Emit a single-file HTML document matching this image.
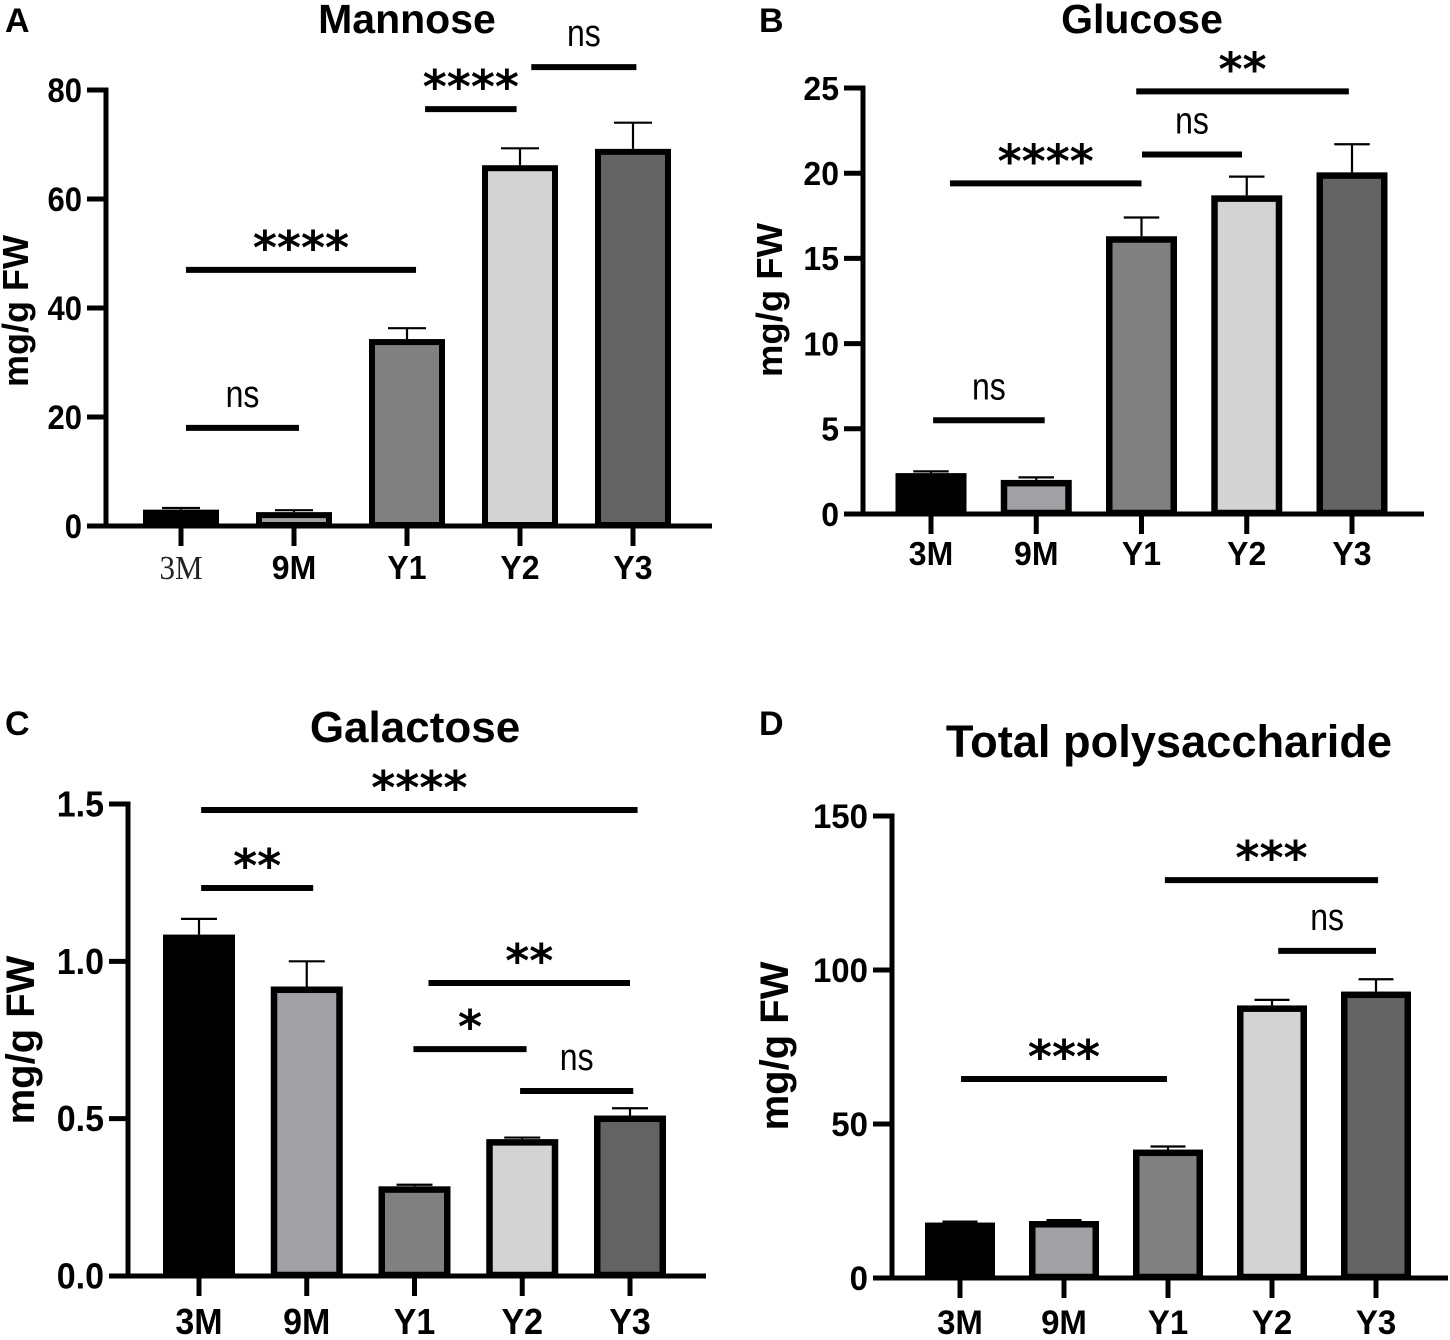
<!DOCTYPE html>
<html lang="en">
<head>
<meta charset="utf-8">
<title>Monosaccharide and polysaccharide content</title>
<style>
  html, body { margin: 0; padding: 0; background: #fff; }
  svg { display: block; font-family: "Liberation Sans", sans-serif; }
  .t { font-weight: 700; fill: #000; }
</style>
</head>
<body>
<svg id="figure" xmlns="http://www.w3.org/2000/svg" width="1450" height="1340" viewBox="0 0 1450 1340">
  <rect x="0" y="0" width="1450" height="1340" fill="#fff"/>
  <text class="t" x="5" y="32" font-size="34">A</text>
  <text class="t" x="759" y="32" font-size="34">B</text>
  <text class="t" x="5" y="735" font-size="34">C</text>
  <text class="t" x="759" y="735" font-size="34">D</text>
  <text class="t" x="407" y="33" font-size="41" text-anchor="middle">Mannose</text>
  <text class="t" x="1142" y="33" font-size="41" text-anchor="middle">Glucose</text>
  <text class="t" x="415" y="742" font-size="44" text-anchor="middle">Galactose</text>
  <text class="t" x="1169" y="757" font-size="45.2" text-anchor="middle">Total polysaccharide</text>
  <text class="t" transform="translate(28 311) rotate(-90)" font-size="36" text-anchor="middle">mg/g FW</text>
  <text class="t" transform="translate(782 300) rotate(-90)" font-size="36.5" text-anchor="middle">mg/g FW</text>
  <text class="t" transform="translate(34 1040) rotate(-90)" font-size="40" text-anchor="middle">mg/g FW</text>
  <text class="t" transform="translate(788 1046) rotate(-90)" font-size="40" text-anchor="middle">mg/g FW</text>
</svg>
<script>
const categories = ['3M', '9M', 'Y1', 'Y2', 'Y3'];

const mannoseValues = [3, 2.55, 34.3, 66.2, 69.2];
const mannoseErrorTops = [3.3, 2.9, 36.3, 69.3, 74];
const mannoseTicks = [0, 20, 40, 60, 80];
const mannoseTickLabels = ['0', '20', '40', '60', '80'];
const mannoseSigLabels = ['ns', '****', '****', 'ns'];
const mannoseSigFrom = [0.044, 0.044, 2.16, 3.1];
const mannoseSigTo = [1.044, 2.08, 2.97, 4.03];
const mannoseSigLevel = [18, 47, 76.5, 84.2];

const glucoseValues = [2.4, 2.0, 16.3, 18.7, 20.05];
const glucoseErrorTops = [2.5, 2.15, 17.4, 19.8, 21.7];
const glucoseTicks = [0, 5, 10, 15, 20, 25];
const glucoseTickLabels = ['0', '5', '10', '15', '20', '25'];
const glucoseSigLabels = ['ns', '****', 'ns', '**'];
const glucoseSigFrom = [0.02, 0.18, 2.005, 1.95];
const glucoseSigTo = [1.08, 2, 2.955, 3.97];
const glucoseSigLevel = [5.5, 19.4, 21.1, 24.8];

const galactoseValues = [1.085, 0.92, 0.285, 0.435, 0.51];
const galactoseErrorTops = [1.135, 1.0, 0.29, 0.44, 0.533];
const galactoseTicks = [0, 0.5, 1, 1.5];
const galactoseTickLabels = ['0.0', '0.5', '1.0', '1.5'];
const galactoseSigLabels = ['****', '**', '**', '*', 'ns'];
const galactoseSigFrom = [0.02, 0.02, 2.13, 1.99, 2.98];
const galactoseSigTo = [4.07, 1.06, 4.0, 3.04, 4.03];
const galactoseSigLevel = [1.481, 1.233, 0.931, 0.721, 0.588];

const totalValues = [18, 18.5, 41.7, 88.5, 93];
const totalErrorTops = [18.3, 18.8, 42.7, 90.3, 97];
const totalTicks = [0, 50, 100, 150];
const totalTickLabels = ['0', '50', '100', '150'];
const totalSigLabels = ['***', '***', 'ns'];
const totalSigFrom = [0.01, 1.97, 3.06];
const totalSigTo = [1.99, 4.02, 4.0];
const totalSigLevel = [64.6, 129.2, 106.2];

const barColors = ['#000000', '#a0a0a5', '#808080', '#d3d3d3', '#636363'];

const svg = document.getElementById('figure');

function make(tag, props, text) {
  const el = document.createElementNS('http://www.w3.org/2000/svg', tag);
  for (const k in props) el.setAttribute(k, props[k]);
  if (text !== undefined) el.textContent = text;
  return el;
}

function drawPanel(p) {
  const g = make('g', {});
  
  
  svg.appendChild(g);

  const yScale = v => p.y0 - (v / p.yMax) * (p.y0 - p.yTop);
  const xScale = i => p.x0 + i * p.step;
  const bw = p.barWidth, sw = p.barStroke;

  // error bars
  p.values.forEach((v, i) => {
    const x = xScale(i), yt = yScale(p.errorTops[i]);
    const stem = make('line', { x1: x, x2: x, y1: yScale(v), y2: yt, stroke: '#000', 'stroke-width': 2.2 });
    
    
    g.appendChild(stem);
    const cap = make('line', { x1: x - bw * 0.25, x2: x + bw * 0.25, y1: yt, y2: yt, stroke: '#000', 'stroke-width': 2.2 });
    
    
    g.appendChild(cap);
  });

  // bars
  p.values.forEach((v, i) => {
    const x = xScale(i), yt = yScale(v);
    const bar = make('rect', {
      x: x - bw / 2 + sw / 2,
      y: yt + sw / 2,
      width: bw - sw,
      height: Math.max(0, p.y0 - 1 - yt - sw / 2),
      fill: barColors[i], stroke: '#000', 'stroke-width': sw
    });
    
    
    g.appendChild(bar);
  });

  // y axis
  const yAxis = make('line', { x1: p.axisX, x2: p.axisX, y1: p.yTop - 2.5, y2: p.y0, stroke: '#000', 'stroke-width': 5 });
  
  
  g.appendChild(yAxis);
  p.ticks.forEach((t, i) => {
    const y = yScale(t);
    const tick = make('line', { x1: p.axisX - 19, x2: p.axisX, y1: y, y2: y, stroke: '#000', 'stroke-width': 5 });
    
    
    g.appendChild(tick);
    const lab = make('text', {
      transform: 'translate(' + (p.axisX - 24) + ' ' + (y + p.tickFont * 0.35 * p.tickStretch) + ') scale(1 ' + p.tickStretch + ')',
      'text-anchor': 'end', 'font-size': p.tickFont, 'font-weight': 700
    }, p.tickLabels[i]);
    
    
    g.appendChild(lab);
  });

  // x axis
  const xAxis = make('line', { x1: p.axisX - 19, x2: p.axisEnd, y1: p.y0, y2: p.y0, stroke: '#000', 'stroke-width': 5 });
  
  
  g.appendChild(xAxis);
  categories.forEach((c, i) => {
    const x = xScale(i);
    const tick = make('line', { x1: x, x2: x, y1: p.y0, y2: p.y0 + 20, stroke: '#000', 'stroke-width': 5 });
    
    
    g.appendChild(tick);
    const serif = p.serifFirst && i === 0;
    const lab = make('text', {
      transform: 'translate(' + x + ' ' + p.xLabelY + ') scale(1 ' + (serif ? 1.08 : 1.05) + ')',
      'text-anchor': 'middle',
      'font-size': serif ? 31 : p.xFont,
      'font-weight': serif ? 400 : 700,
      'font-family': serif ? '"Liberation Serif", serif' : '"Liberation Sans", sans-serif',
      fill: serif ? '#222' : '#000'
    }, c);
    
    
    g.appendChild(lab);
  });

  // significance brackets
  p.sigLabels.forEach((s, i) => {
    const x1 = xScale(p.sigFrom[i]), x2 = xScale(p.sigTo[i]), y = yScale(p.sigLevel[i]);
    const bracket = make('line', { x1: x1, x2: x2, y1: y, y2: y, stroke: '#000', 'stroke-width': 6 });
    
    
    g.appendChild(bracket);
    const isNs = s === 'ns';
    const cx = (x1 + x2) / 2;
    const lab = isNs
      ? make('text', {
          transform: 'translate(' + cx + ' ' + (y - 21) + ') scale(1 1.18)',
          'text-anchor': 'middle', 'font-size': 32, 'font-weight': 400
        }, s)
      : make('text', {
          x: cx, y: y - 6,
          'text-anchor': 'middle', 'font-size': 46, 'font-weight': 700,
          'font-family': '"DejaVu Sans", sans-serif'
        }, s);
    
    
    g.appendChild(lab);
  });
}

drawPanel({ id: 'mannose', values: mannoseValues, errorTops: mannoseErrorTops, ticks: mannoseTicks, tickLabels: mannoseTickLabels,
  sigLabels: mannoseSigLabels, sigFrom: mannoseSigFrom, sigTo: mannoseSigTo, sigLevel: mannoseSigLevel,
  axisX: 106, axisEnd: 712, y0: 526, yTop: 90, yMax: 80, x0: 181, step: 113, barWidth: 76, barStroke: 6, tickFont: 31, tickStretch: 1.1, xFont: 32, xLabelY: 579, serifFirst: true });

drawPanel({ id: 'glucose', values: glucoseValues, errorTops: glucoseErrorTops, ticks: glucoseTicks, tickLabels: glucoseTickLabels,
  sigLabels: glucoseSigLabels, sigFrom: glucoseSigFrom, sigTo: glucoseSigTo, sigLevel: glucoseSigLevel,
  axisX: 863, axisEnd: 1424, y0: 514, yTop: 88, yMax: 25, x0: 931, step: 105.25, barWidth: 71, barStroke: 6.5, tickFont: 32, tickStretch: 1.05, xFont: 32, xLabelY: 565, serifFirst: false });

drawPanel({ id: 'galactose', values: galactoseValues, errorTops: galactoseErrorTops, ticks: galactoseTicks, tickLabels: galactoseTickLabels,
  sigLabels: galactoseSigLabels, sigFrom: galactoseSigFrom, sigTo: galactoseSigTo, sigLevel: galactoseSigLevel,
  axisX: 128, axisEnd: 706, y0: 1276, yTop: 804, yMax: 1.5, x0: 199, step: 107.75, barWidth: 72, barStroke: 6.5, tickFont: 34, tickStretch: 1.05, xFont: 34, xLabelY: 1334, serifFirst: false });

drawPanel({ id: 'total-polysaccharide', values: totalValues, errorTops: totalErrorTops, ticks: totalTicks, tickLabels: totalTickLabels,
  sigLabels: totalSigLabels, sigFrom: totalSigFrom, sigTo: totalSigTo, sigLevel: totalSigLevel,
  axisX: 892, axisEnd: 1448, y0: 1278, yTop: 816, yMax: 150, x0: 960, step: 104, barWidth: 70, barStroke: 6.5, tickFont: 33, tickStretch: 1.05, xFont: 33, xLabelY: 1334, serifFirst: false });
</script>
</body>
</html>
